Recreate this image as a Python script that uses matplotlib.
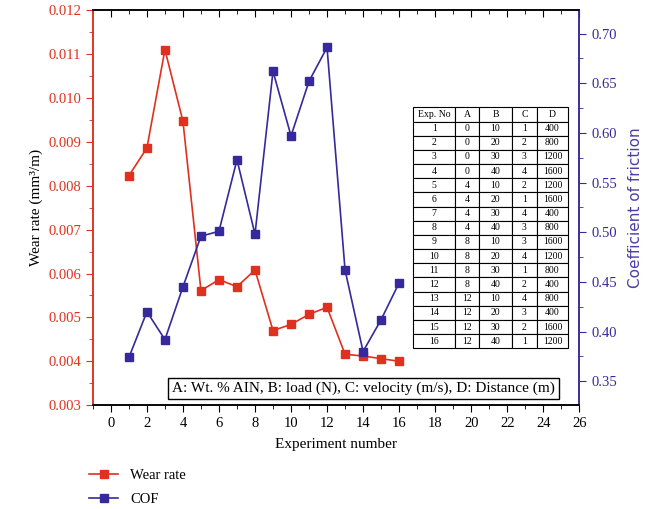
import matplotlib.pyplot as plt
from matplotlib.ticker import MultipleLocator

plt.rcParams['font.family'] = ['Liberation Serif', 'DejaVu Serif']

# data
exp_no = list(range(1, 17))
wear_rate = [0.00823, 0.00886, 0.01110, 0.00947, 0.00561, 0.00586, 0.00570, 0.00608,
             0.00470, 0.00484, 0.00507, 0.00523, 0.00416, 0.00412, 0.00406, 0.00400]
cof = [0.374, 0.420, 0.392, 0.445, 0.496, 0.501, 0.573, 0.498,
       0.662, 0.597, 0.652, 0.686, 0.462, 0.380, 0.412, 0.449]

tab_cols = ["Exp. No", "A", "B", "C", "D"]
col_a = [0, 0, 0, 0, 4, 4, 4, 4, 8, 8, 8, 8, 12, 12, 12, 12]
col_b = [10, 20, 30, 40, 10, 20, 30, 40, 10, 20, 30, 40, 10, 20, 30, 40]
col_c = [1, 2, 3, 4, 2, 1, 4, 3, 3, 4, 1, 2, 4, 3, 2, 1]
col_d = [400, 800, 1200, 1600, 1200, 1600, 400, 800, 1600, 1200, 800, 400, 800, 400, 1600, 1200]

red = '#e0301e'
blue = '#35299b'

fig = plt.figure(figsize=(6.45, 5.09), dpi=100)
ax = fig.add_axes([0.144, 0.204, 0.754, 0.776])
ax2 = ax.twinx()

l1, = ax.plot(exp_no, wear_rate, color=red, marker='s', markersize=5.5, lw=1.2, label='Wear rate')
l2, = ax2.plot(exp_no, cof, color=blue, marker='s', markersize=5.5, lw=1.2, label='COF')

ax.set_xlim(-1, 26)
ax.set_ylim(0.003, 0.012)
ax2.set_ylim(0.326, 0.7235)

ax.xaxis.set_major_locator(MultipleLocator(2))
ax.xaxis.set_minor_locator(MultipleLocator(1))
ax.yaxis.set_major_locator(MultipleLocator(0.001))
ax.yaxis.set_minor_locator(MultipleLocator(0.0005))
ax.yaxis.set_major_formatter(plt.FormatStrFormatter('%.3f'))
ax2.yaxis.set_major_locator(MultipleLocator(0.05))
ax2.yaxis.set_minor_locator(MultipleLocator(0.025))
ax2.yaxis.set_major_formatter(plt.FormatStrFormatter('%.2f'))

ax.tick_params(axis='x', which='both', direction='out', top=True, labelsize=10.5)
ax.tick_params(axis='x', which='major', length=5)
ax.tick_params(axis='x', which='minor', length=3)
ax.tick_params(axis='y', which='both', colors=red, labelsize=10.5)
ax.tick_params(axis='y', which='major', length=5)
ax.tick_params(axis='y', which='minor', length=3)
ax2.tick_params(axis='y', which='both', colors=blue, labelsize=10.5)
ax2.tick_params(axis='y', which='major', length=5)
ax2.tick_params(axis='y', which='minor', length=3)
# top ticks point into the plot
for t in ax.xaxis.get_major_ticks() + ax.xaxis.get_minor_ticks():
    t.tick2line.set_marker(3)

ax.spines['left'].set_color(red)
ax2.spines['left'].set_color(red)
for a in (ax, ax2):
    a.spines['right'].set_color(blue)
    for s in a.spines.values():
        s.set_linewidth(1.1)

ax.set_xlabel('Experiment number', fontsize=11, labelpad=6)
ax.set_ylabel('Wear rate (mm³/m)', fontsize=11)
ax2.set_ylabel('Coefficient of friction', fontsize=11, color='#4a3fa5', family='DejaVu Sans', labelpad=8)

# parameter table
cells = [[str(n), str(a), str(b), str(c), str(d)]
         for n, a, b, c, d in zip(exp_no, col_a, col_b, col_c, col_d)]
tbl = ax2.table(cellText=cells, colLabels=tab_cols, cellLoc='center',
                colWidths=[129, 72, 100, 75, 95],
                bbox=[0.658, 0.144, 0.319, 0.610])
tbl.auto_set_font_size(False)
tbl.set_fontsize(7)
for (r, c), cell in tbl.get_celld().items():
    cell.set_linewidth(0.8)
    cell.set_edgecolor('black')
    cell.get_text().set_fontfamily('Liberation Serif')

ax2.text(0.556, 0.043, 'A: Wt. % AIN, B: load (N), C: velocity (m/s), D: Distance (m)',
         transform=ax2.transAxes, ha='center', va='center', fontsize=11,
         bbox=dict(boxstyle='square,pad=0.25', fc='white', ec='black', lw=1.0))

fig.legend(handles=[l1, l2], loc='upper left', bbox_to_anchor=(0.118, 0.105),
           frameon=False, fontsize=10.5, labelspacing=0.75, handlelength=2.0,
           handletextpad=0.8)

fig.savefig('out.png', dpi=100)
